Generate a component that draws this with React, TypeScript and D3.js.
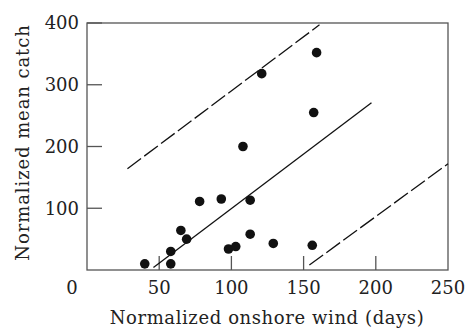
import React from 'react';
import * as d3 from 'd3';

// Scatter points: [onshore wind, mean catch]
const windDays = [40, 58, 58, 65, 69, 78, 93, 98, 103, 108, 113, 113, 121, 129, 156, 157, 159];
const meanCatch = [10, 10, 30, 64, 50, 111, 115, 34, 38, 200, 113, 58, 318, 43, 40, 255, 352];

// Fitted line and the two dashed bounds (start/end in data units)
const fitLine: [number, number][] = [[46, 4], [197, 271]];
const upperBound: [number, number][] = [[28, 164], [161, 397]];
const lowerBound: [number, number][] = [[154, 8], [250, 172]];

const xTicks = [50, 100, 150, 200, 250];
const yTicks = [100, 200, 300, 400];

const W = 467;
const H = 331;
const margin = { top: 23, right: 19, bottom: 61, left: 87 };

export default function App() {
  const innerW = W - margin.left - margin.right;
  const innerH = H - margin.top - margin.bottom;

  const x = d3.scaleLinear().domain([0, 250]).range([0, innerW]);
  const y = d3.scaleLinear().domain([0, 400]).range([innerH, 0]);
  const line = d3.line<[number, number]>().x((d) => x(d[0])).y((d) => y(d[1]));

  const font = '"DejaVu Serif", serif';
  const axisColor = '#555';

  return (
    <svg width={W} height={H} style={{ position: 'absolute', left: 0, top: 0, background: '#fff' }}>
      <g transform={`translate(${margin.left},${margin.top})`}>
        <rect x={0} y={0} width={innerW} height={innerH} fill="none" stroke={axisColor} strokeWidth={1.3} />

        {/* inward ticks */}
        {yTicks.map((t) => (
          <line key={'yt' + t} x1={0} x2={15} y1={y(t)} y2={y(t)} stroke={axisColor} strokeWidth={1.3} />
        ))}
        {xTicks.filter((t) => t < 250).map((t) => (
          <line key={'xt' + t} x1={x(t)} x2={x(t)} y1={innerH} y2={innerH - 14} stroke={axisColor} strokeWidth={1.3} />
        ))}

        {/* tick labels */}
        {yTicks.map((t) => (
          <text key={'yl' + t} x={-8} y={y(t)} dy="0.36em" textAnchor="end" fontFamily={font} fontSize={18} fill="#222">
            {t}
          </text>
        ))}
        <text x={-15} y={innerH + 18} dy="0.36em" textAnchor="middle" fontFamily={font} fontSize={18} fill="#222">
          0
        </text>
        {xTicks.map((t) => (
          <text key={'xl' + t} x={x(t)} y={innerH + 18} dy="0.36em" textAnchor="middle" fontFamily={font} fontSize={18} fill="#222">
            {t}
          </text>
        ))}

        {/* lines */}
        <path d={line(fitLine) || ''} fill="none" stroke="#111" strokeWidth={1.3} />
        <path d={line(upperBound) || ''} fill="none" stroke="#111" strokeWidth={1.3} strokeDasharray="17,4" />
        <path d={line(lowerBound) || ''} fill="none" stroke="#111" strokeWidth={1.3} strokeDasharray="17,4" />

        {/* points */}
        {windDays.map((d, i) => (
          <circle key={i} cx={x(d)} cy={y(meanCatch[i])} r={4.8} fill="#111" />
        ))}
      </g>

      <text x={267} y={318} dy="0.36em" textAnchor="middle" fontFamily={font} fontSize={18} letterSpacing={0.6} fill="#222">
        Normalized onshore wind (days)
      </text>
      <text
        transform={`translate(23,${margin.top + innerH / 2 - 4}) rotate(-90)`}
        dy="0.36em"
        textAnchor="middle"
        fontFamily={font}
        fontSize={18}
        letterSpacing={0.9}
        fill="#222"
      >
        Normalized mean catch
      </text>
    </svg>
  );
}
